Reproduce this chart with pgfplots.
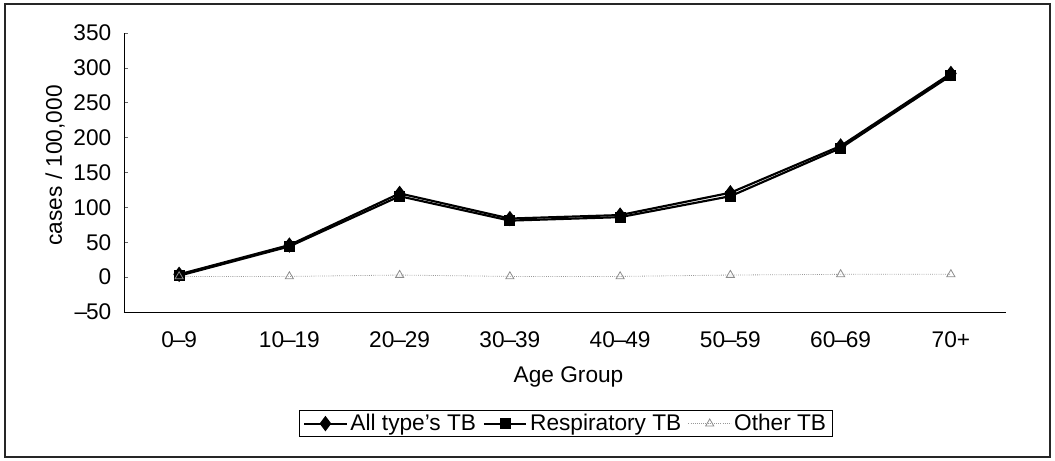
\documentclass[border=0pt]{standalone}
\usepackage{fontspec}
\setmainfont{Liberation Sans}
\usepackage{pgfplots}
\pgfplotsset{compat=1.18}
\newcommand{\fs}{\fontsize{17}{20}\selectfont}
\newcommand{\dd}{\kern-0.8pt--\kern-0.8pt}
\begin{document}
\begin{tikzpicture}
\useasboundingbox (-93pt,-111pt) rectangle (698.25pt,234pt);
\draw[line width=1.2pt,black!85] (-89.25pt,-108.75pt) rectangle (694.5pt,231pt);
\begin{axis}[
  at={(0pt,0pt)}, anchor=south west,
  scale only axis, width=661.5pt, height=209.25pt,
  xmin=-0.5, xmax=7.5, ymin=-50, ymax=350,
  axis lines*=left,
  axis line style={black, line width=0.7pt},
  xtick={0,1,2,3,4,5,6,7},
  xticklabels={0\dd9,10\dd19,20\dd29,30\dd39,40\dd49,50\dd59,60\dd69,70+},
  major x tick style={draw=none},
  extra x ticks={-0.5,0.5,1.5,2.5,3.5,4.5,5.5,6.5,7.5},
  extra x tick labels={},
  extra x tick style={tick style={black,line width=0.5pt}, major tick length=5pt, tick align=inside},
  ytick={-50,0,50,100,150,200,250,300,350},
  yticklabels={--\kern-0.8pt50,0,50,100,150,200,250,300,350},
  tick align=inside, major tick length=3pt,
  ytick style={black!60, line width=0.5pt},
  xticklabel style={font=\fs, yshift=-11.5pt},
  yticklabel style={font=\fs, xshift=-6pt},
  clip=false,
  legend columns=3,
  legend style={font=\fs, at={(0.501,-0.4)}, anchor=center, draw=black, line width=0.7pt,
    inner xsep=3pt, inner ysep=1pt,
    nodes={inner xsep=2pt},
    /tikz/every even column/.append style={column sep=3pt}},
  legend image code/.code={\draw[mark repeat=2,mark phase=2] plot coordinates {(0pt,0pt) (16pt,0pt) (32pt,0pt)};},
]
\addplot[black, line width=1.6pt, mark=diamond*, mark size=4.5pt, mark options={solid}]
  coordinates {(0,4) (1,46) (2,120) (3,84) (4,89) (5,121) (6,188) (7,292)};
\addlegendentry{All type's TB}
\addplot[black, line width=1.6pt, mark=square*, mark size=3.3pt, mark options={solid}]
  coordinates {(0,2) (1,44) (2,116) (3,81) (4,86) (5,116) (6,185) (7,289)};
\addlegendentry{Respiratory TB}
\addplot[black!40, line width=0.6pt, densely dotted, mark=triangle, mark size=3.5pt, mark options={solid, black!45}]
  coordinates {(0,1) (1,1) (2,3) (3,1) (4,1) (5,3) (6,4) (7,4)};
\addlegendentry{Other TB}
\node[font=\fs, anchor=center] at (axis description cs:0.504,-0.233) {Age Group};
\node[font=\fs, rotate=90, anchor=west] at (axis description cs:-0.078,0.222) {cases / 100,000};
\end{axis}
\end{tikzpicture}
\end{document}
